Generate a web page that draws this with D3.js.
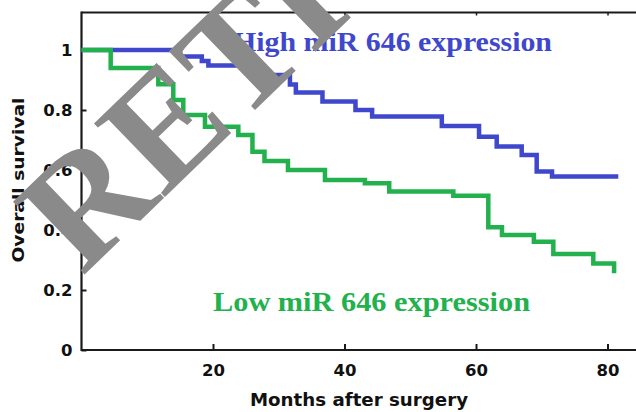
<!DOCTYPE html>
<html><head><meta charset="utf-8">
<script src="https://cdn.jsdelivr.net/npm/d3@7"></script>
<style>body{margin:0;background:#fff}svg{display:block}</style>
</head><body><svg id="c" width="636" height="412"></svg>
<script>
const xTicks=[20,40,60,80];
const yTicks=[0,0.2,0.4,0.6,0.8,1];
const yTickLabels=["0","0.2","0.4","0.6","0.8","1"];
const highTimes=[0,15.0,18.3,19.3,25.6,31.7,32.6,36.65,41.67,44.2,54.8,60.46,63.15,66.95,69.23,71.56,81.64];
const highSurv=[1,0.978,0.963,0.948,0.917,0.885,0.858,0.828,0.8,0.778,0.747,0.711,0.678,0.65,0.595,0.578,0.578];
const lowTimes=[0,4.44,11.68,13.96,15.48,18.78,23.85,26.0,27.83,31.4,37.03,43.1,46.8,56.55,61.87,63.95,68.8,71.76,77.84,81.0];
const lowSurv=[1,0.94,0.886,0.833,0.783,0.744,0.717,0.661,0.63,0.6,0.567,0.556,0.528,0.514,0.409,0.383,0.361,0.32,0.288,0.256];
const seriesNames=["High miR 646 expression","Low miR 646 expression"];
const xTitle="Months after surgery";
const yTitle="Overall survival";
const watermark="RETRACTED";

const svg=d3.select("#c");
const x=d3.scaleLinear().domain([0,84.5]).range([81.5,637.1]);
const y=d3.scaleLinear().domain([0,1.125]).range([350,12.5]);
const axisCol="#1a1a1a";
const sans="DejaVu Sans, Verdana, sans-serif";
const serif="Liberation Serif, Times New Roman, serif";

// axes frame
svg.append("line").attr("x1",x(0)).attr("x2",636).attr("y1",y(0)).attr("y2",y(0)).attr("stroke",axisCol).attr("stroke-width",2.2);
svg.append("line").attr("x1",x(0)).attr("x2",636).attr("y1",y(1.125)).attr("y2",y(1.125)).attr("stroke",axisCol).attr("stroke-width",2.2);
svg.append("line").attr("x1",x(0)).attr("x2",x(0)).attr("y1",y(0)+1).attr("y2",y(1.125)-1).attr("stroke",axisCol).attr("stroke-width",2.2);

// x axis ticks (inward) and labels
const xa=d3.axisBottom(x).tickValues(xTicks).tickSizeInner(-6).tickSizeOuter(0).tickPadding(14).tickFormat(d3.format("d"));
const gx=svg.append("g").attr("transform",`translate(0,${y(0)})`).call(xa);
gx.select(".domain").remove();
gx.selectAll("line").attr("stroke",axisCol).attr("stroke-width",2);
gx.selectAll("text").attr("font-family",sans).attr("font-weight","bold").attr("font-size",16.5).attr("fill","#111");
// top ticks
const xt=d3.axisTop(x).tickValues(xTicks).tickSizeInner(-3).tickSizeOuter(0).tickFormat("");
const gxt=svg.append("g").attr("transform",`translate(0,${y(1.125)})`).call(xt);
gxt.select(".domain").remove();
gxt.selectAll("line").attr("stroke",axisCol).attr("stroke-width",1.5);

const ya=d3.axisLeft(y).tickValues(yTicks).tickSizeInner(-5).tickSizeOuter(0).tickPadding(9).tickFormat((d,i)=>yTickLabels[i]);
const gy=svg.append("g").attr("transform",`translate(${x(0)},0)`).call(ya);
gy.select(".domain").remove();
gy.selectAll("line").attr("stroke",axisCol).attr("stroke-width",2);
gy.selectAll("text").attr("font-family",sans).attr("font-weight","bold").attr("font-size",16.5).attr("fill","#111");

// curves
const line=d3.line().x(d=>x(d[0])).y(d=>y(d[1])).curve(d3.curveStepAfter);
const highData=highTimes.map((t,i)=>[t,highSurv[i]]);
const lowData=lowTimes.map((t,i)=>[t,lowSurv[i]]);
svg.append("path").attr("d",line(highData)).attr("fill","none").attr("stroke","#3f48cc").attr("stroke-width",4.5);
svg.append("path").attr("d",line(lowData)).attr("fill","none").attr("stroke","#22b14c").attr("stroke-width",4.5);

// series labels
svg.append("text").attr("x",233).attr("y",51).attr("font-family",serif).attr("font-weight","bold").attr("font-size",27).attr("fill","#3f48cc").attr("textLength",319).attr("lengthAdjust","spacingAndGlyphs").text(seriesNames[0]);
svg.append("text").attr("x",213).attr("y",311).attr("font-family",serif).attr("font-weight","bold").attr("font-size",27).attr("fill","#22b14c").attr("textLength",317).attr("lengthAdjust","spacingAndGlyphs").text(seriesNames[1]);

// axis titles
svg.append("text").attr("x",359).attr("y",406).attr("text-anchor","middle").attr("font-family",sans).attr("font-weight","bold").attr("font-size",17).attr("fill","#111").attr("textLength",218).attr("lengthAdjust","spacingAndGlyphs").text(xTitle);
svg.append("text").attr("transform","translate(24,180) rotate(-90)").attr("text-anchor","middle").attr("font-family",sans).attr("font-weight","bold").attr("font-size",16.5).attr("fill","#111").attr("textLength",165).attr("lengthAdjust","spacingAndGlyphs").text(yTitle);

// watermark
svg.append("text").attr("transform","translate(82,277) rotate(-44)").attr("font-family",serif).attr("font-weight","bold").attr("font-size",156).attr("fill","#8a8a8a").text(watermark);
</script></body></html>
